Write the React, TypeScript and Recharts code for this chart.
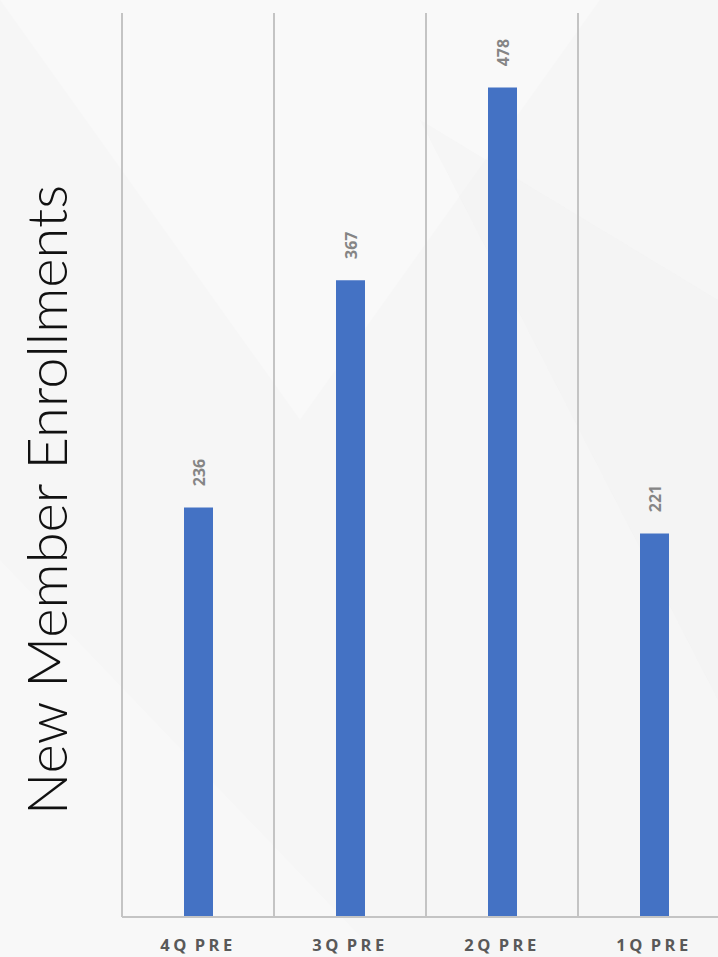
import { BarChart, Bar, XAxis, YAxis, CartesianGrid, LabelList } from "recharts";

const quarters = ["4Q PRE", "3Q PRE", "2Q PRE", "1Q PRE"];
const enrollments = [236, 367, 478, 221];
const gridTicks = [0, 1, 2, 3, 4];

const data = quarters.map((q, i) => ({ quarter: q, enrollments: enrollments[i], slot: i + 0.5 }));

function ValueLabel(props: { x?: number; y?: number; width?: number; value?: number }) {
  const { x = 0, y = 0, width = 0, value } = props;
  const cx = x + width / 2 + 1;
  const cy = y - 35;
  return (
    <text
      x={cx}
      y={cy}
      transform={`rotate(-90, ${cx}, ${cy})`}
      textAnchor="middle"
      dominantBaseline="central"
      fill="#858585"
      fontSize={16}
      fontWeight={700}
      fontFamily="'Open Sans', 'DejaVu Sans', sans-serif"
    >
      {value}
    </text>
  );
}

export default function App() {
  return (
    <div
      style={{
        position: "fixed",
        left: 0,
        top: 0,
        width: 718,
        height: 957,
        overflow: "hidden",
        background: "#f6f6f6",
      }}
    >
      <svg width={718} height={957} style={{ position: "absolute", left: 0, top: 0 }}>
        <polygon points="0,0 600,0 300,420" fill="#ffffff" opacity={0.3} />
        <polygon points="420,120 718,300 718,700" fill="#f0f0f0" opacity={0.3} />
        <polygon points="0,560 380,957 0,957" fill="#ffffff" opacity={0.25} />
        <text
          x={67}
          y={500}
          transform="rotate(-90, 67, 500)"
          textAnchor="middle"
          fill="#111"
          fontSize={56}
          fontWeight={300}
          fontFamily="Lato, 'Open Sans', sans-serif"
          textLength={630}
          lengthAdjust="spacingAndGlyphs"
        >
          New Member Enrollments
        </text>
      </svg>
      <div style={{ position: "absolute", left: 0, top: 0 }}>
        <BarChart
          width={760}
          height={957}
          data={data}
          margin={{ top: 13, right: 30, left: 122, bottom: 0 }}
          barSize={29}
        >
          <CartesianGrid xAxisId="grid" horizontal={false} stroke="#c4c4c4" strokeWidth={2} />
          <XAxis
            dataKey="quarter"
            height={40}
            tickSize={0}
            tickMargin={22}
            axisLine={{ stroke: "#c4c4c4", strokeWidth: 2 }}
            tickLine={false}
            tick={{
              fill: "#595959",
              fontSize: 16.5,
              fontWeight: 700,
              letterSpacing: 3.5,
              wordSpacing: -3,
              fontFamily: "'Open Sans', 'DejaVu Sans', sans-serif",
            }}
          />
          <XAxis xAxisId="grid" type="number" dataKey="slot" domain={[0, 4]} ticks={gridTicks} hide />
          <YAxis domain={[0, 521]} hide />
          <Bar dataKey="enrollments" fill="#4472c4" isAnimationActive={false}>
            <LabelList dataKey="enrollments" content={<ValueLabel />} />
          </Bar>
        </BarChart>
      </div>
    </div>
  );
}
